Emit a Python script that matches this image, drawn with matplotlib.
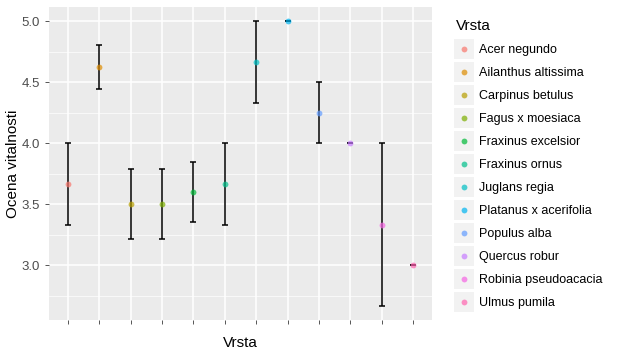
import matplotlib.pyplot as plt
import numpy as np
from matplotlib.lines import Line2D
from matplotlib.legend_handler import HandlerTuple

from matplotlib import rcParams
rcParams['font.family'] = 'Liberation Sans'

species = ['Acer negundo', 'Ailanthus altissima', 'Carpinus betulus', 'Fagus x moesiaca',
           'Fraxinus excelsior', 'Fraxinus ornus', 'Juglans regia', 'Platanus x acerifolia',
           'Populus alba', 'Quercus robur', 'Robinia pseudoacacia', 'Ulmus pumila']
mean = [3.667, 4.625, 3.5, 3.5, 3.6, 3.667, 4.667, 5.0, 4.25, 4.0, 3.333, 3.0]
lower = [3.333, 4.447, 3.214, 3.214, 3.355, 3.333, 4.333, 5.0, 4.0, 4.0, 2.667, 3.0]
upper = [4.0, 4.803, 3.786, 3.786, 3.845, 4.0, 5.0, 5.0, 4.5, 4.0, 4.0, 3.0]
colors = ['#F8766D', '#DE8C00', '#B79F00', '#7CAE00', '#00BA38', '#00C08B',
          '#00BFC4', '#00B4F0', '#619CFF', '#C77CFF', '#F564E3', '#FF64B0']

fig = plt.figure(figsize=(6.19, 3.52), dpi=100)
ax = fig.add_axes([0.079, 0.091, 0.619, 0.889])
ax.set_facecolor('#EBEBEB')

x = np.arange(1, len(species) + 1)
mean = np.array(mean)
yerr = [mean - np.array(lower), np.array(upper) - mean]
ax.errorbar(x, mean, yerr=yerr, fmt='none', ecolor='black', elinewidth=1.1,
            capsize=2.3, capthick=1.1, zorder=3)
for i in range(len(species)):
    ax.plot(x[i], mean[i], 'o', color=colors[i], markersize=4.2, alpha=0.7,
            markeredgewidth=0, zorder=4)

ax.set_xlim(0.4, 12.6)
ax.set_ylim(2.55, 5.117)
ax.set_xticks(x)
ax.set_xticklabels([])
ax.set_yticks([3.0, 3.5, 4.0, 4.5, 5.0])
ax.set_yticks([2.75, 3.25, 3.75, 4.25, 4.75], minor=True)
ax.grid(which='major', color='white', linewidth=1.1)
ax.grid(which='minor', axis='y', color='white', linewidth=0.5)
ax.set_axisbelow(True)
for s in ax.spines.values():
    s.set_visible(False)
ax.tick_params(which='major', color='#555555', length=3, width=0.7, labelsize=9.5, labelcolor='#4D4D4D')
ax.tick_params(which='minor', length=0)

ax.set_xlabel('Vrsta', fontsize=11, labelpad=5)
ax.set_ylabel('Ocena vitalnosti', fontsize=11, labelpad=1)

# legend keys: grey square with a coloured dot on top
handles = []
for c in colors:
    bg = Line2D([], [], marker='s', linestyle='none', markersize=15,
                markerfacecolor='#F2F2F2', markeredgewidth=0)
    dot = Line2D([], [], marker='o', linestyle='none', markersize=4.2,
                 color=c, alpha=0.7, markeredgewidth=0)
    handles.append((bg, dot))

leg = ax.legend(handles, species, handler_map={tuple: HandlerTuple(ndivide=1)},
                title='Vrsta', loc='upper left', bbox_to_anchor=(1.04, 0.99), frameon=False,
                fontsize=9, title_fontsize=11, labelspacing=0.88, handlelength=1.2,
                handletextpad=0.6, borderaxespad=0.3)
leg._legend_box.align = 'left'

fig.savefig('out.png', dpi=100)
